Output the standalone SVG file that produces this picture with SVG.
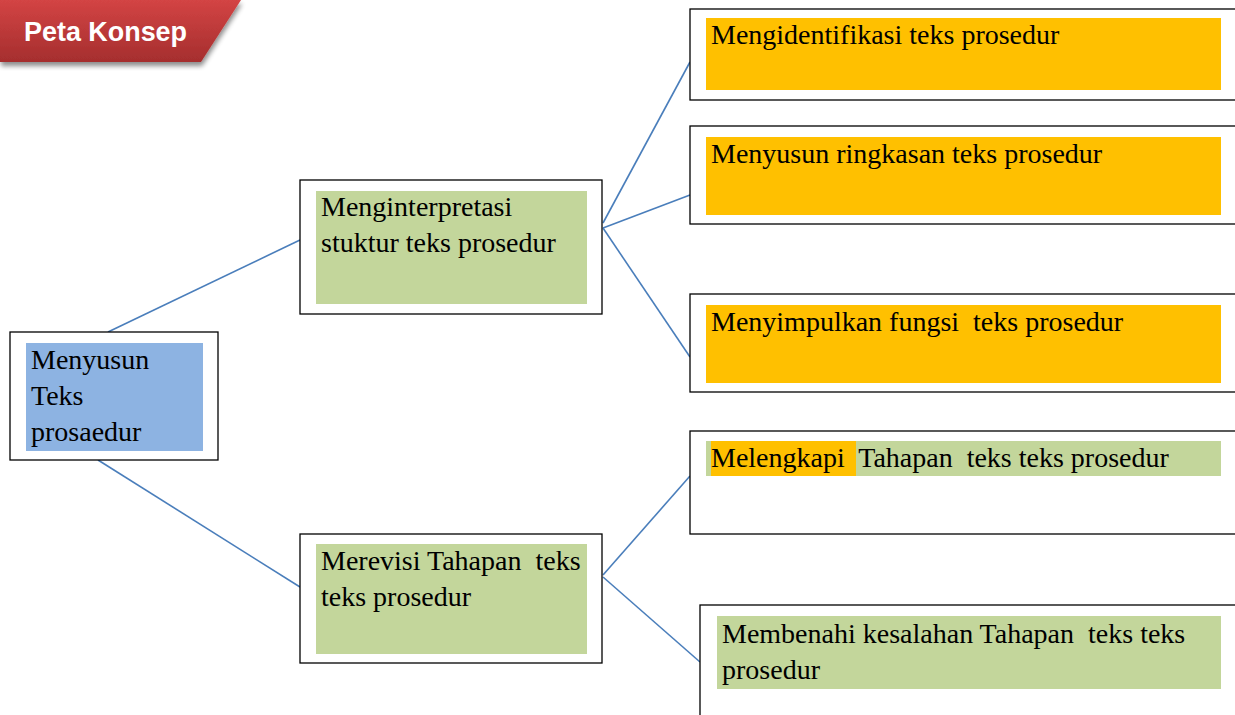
<svg xmlns="http://www.w3.org/2000/svg" width="1235" height="715" viewBox="0 0 1235 715">
  <style>
    .frame{fill:#ffffff;stroke:#000000;stroke-width:1.3}
    .blue{fill:#8db3e2}
    .green{fill:#c3d69b}
    .orange{fill:#ffc000}
    .t{font-family:"Liberation Serif","Times New Roman",serif;font-size:28px;fill:#000000;white-space:pre}
    .conn line{stroke:#4a7ebb;stroke-width:1.6}
  </style>
  <defs>
    <linearGradient id="redg" x1="0" y1="0" x2="0" y2="1">
      <stop offset="0" stop-color="#d34444"/>
      <stop offset="1" stop-color="#a52e2e"/>
    </linearGradient>
    <filter id="sh" x="-10%" y="-10%" width="130%" height="140%">
      <feGaussianBlur in="SourceAlpha" stdDeviation="2.5"/>
      <feOffset dx="1" dy="4" result="b"/>
      <feComponentTransfer><feFuncA type="linear" slope="0.45"/></feComponentTransfer>
      <feMerge><feMergeNode/><feMergeNode in="SourceGraphic"/></feMerge>
    </filter>
  </defs>
  <rect width="1235" height="715" fill="#ffffff"/>

  <g id="banner">
    <polygon points="0,0 241,0 201,62 0,62" fill="url(#redg)" filter="url(#sh)"/>
    <text x="24" y="41" font-family="'Liberation Sans',Arial,sans-serif" font-weight="bold" font-size="27" fill="#ffffff" textLength="163" lengthAdjust="spacingAndGlyphs">Peta Konsep</text>
  </g>

  <g id="connectors" class="conn">
    <line x1="108" y1="332" x2="300" y2="240"/>
    <line x1="98" y1="460" x2="300" y2="587"/>
    <line x1="603" y1="223" x2="690" y2="62"/>
    <line x1="603" y1="228" x2="690" y2="195"/>
    <line x1="603" y1="228" x2="690" y2="357"/>
    <line x1="603" y1="575" x2="690" y2="476"/>
    <line x1="603" y1="577" x2="700" y2="662"/>
  </g>

  <g id="root">
    <rect class="frame" x="10" y="332" width="208" height="128"/>
    <rect class="blue" x="26" y="343" width="177" height="108"/>
    <text class="t" x="31" y="369">Menyusun</text>
    <text class="t" x="31" y="405">Teks</text>
    <text class="t" x="31" y="441">prosaedur</text>
  </g>

  <g id="n-interpretasi">
    <rect class="frame" x="300" y="180" width="302" height="134"/>
    <rect class="green" x="316" y="191" width="271" height="113"/>
    <text class="t" x="321" y="216">Menginterpretasi</text>
    <text class="t" x="321" y="252">stuktur teks prosedur</text>
  </g>

  <g id="n-merevisi">
    <rect class="frame" x="300" y="534" width="302" height="129"/>
    <rect class="green" x="316" y="544" width="271" height="110"/>
    <text class="t" x="321" y="570" xml:space="preserve">Merevisi Tahapan  teks</text>
    <text class="t" x="321" y="606">teks prosedur</text>
  </g>

  <g id="n-identifikasi">
    <rect class="frame" x="690" y="9" width="560" height="91"/>
    <rect class="orange" x="706" y="18" width="515" height="72"/>
    <text class="t" x="711" y="44">Mengidentifikasi teks prosedur</text>
  </g>

  <g id="n-ringkasan">
    <rect class="frame" x="690" y="126" width="560" height="98"/>
    <rect class="orange" x="706" y="137" width="515" height="78"/>
    <text class="t" x="711" y="163">Menyusun ringkasan teks prosedur</text>
  </g>

  <g id="n-fungsi">
    <rect class="frame" x="690" y="294" width="560" height="98"/>
    <rect class="orange" x="706" y="305" width="515" height="78"/>
    <text class="t" x="711" y="331" xml:space="preserve">Menyimpulkan fungsi  teks prosedur</text>
  </g>

  <g id="n-melengkapi">
    <rect class="frame" x="690" y="431" width="560" height="103"/>
    <rect class="green" x="706" y="441" width="515" height="35"/>
    <rect class="orange" x="711" y="441" width="145" height="35"/>
    <text class="t" x="711" y="467" xml:space="preserve">Melengkapi  Tahapan  teks teks prosedur</text>
  </g>

  <g id="n-membenahi">
    <rect class="frame" x="700" y="605" width="560" height="130"/>
    <rect class="green" x="717" y="616" width="504" height="73"/>
    <text class="t" x="722" y="643" xml:space="preserve">Membenahi kesalahan Tahapan  teks teks</text>
    <text class="t" x="722" y="679">prosedur</text>
  </g>
</svg>
